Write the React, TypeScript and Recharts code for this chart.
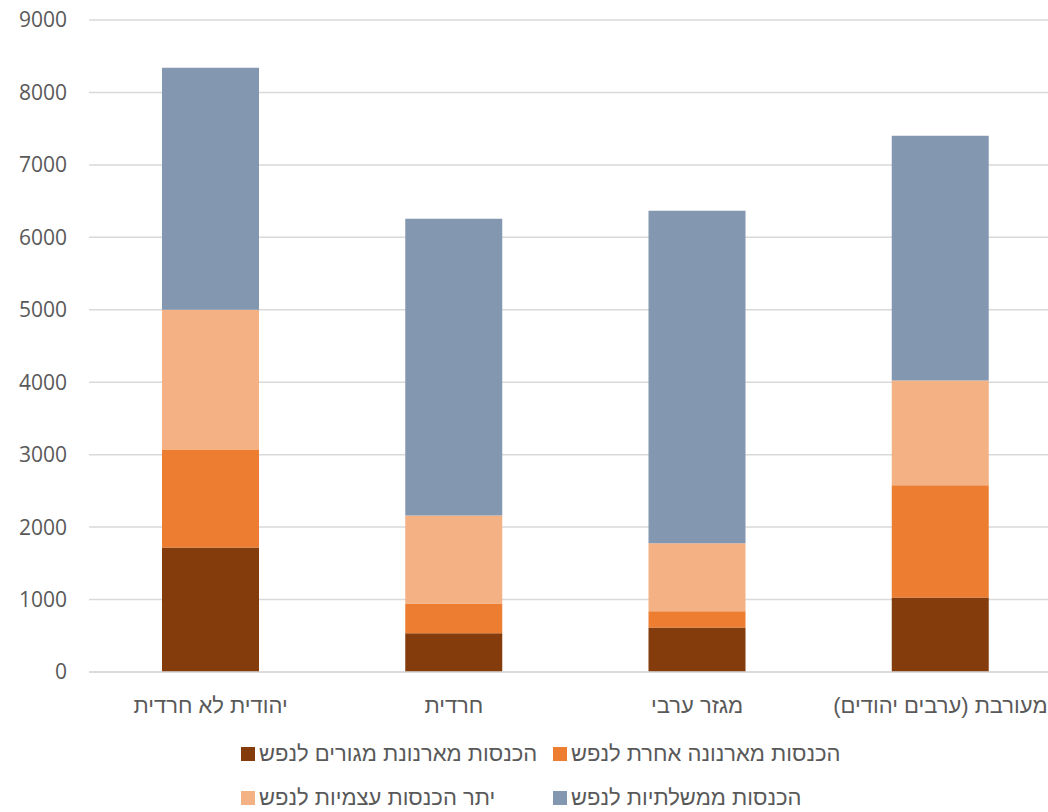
import React from 'react';
import { BarChart, Bar, XAxis, YAxis, CartesianGrid, Legend } from 'recharts';

const categories = ['יהודית לא חרדית', 'חרדית', 'מגזר ערבי', 'מעורבת (ערבים יהודים)'];
const residentialTax = [1720, 535, 615, 1030];
const otherTax = [1345, 410, 222, 1547];
const otherOwnIncome = [1935, 1215, 940, 1447];
const governmentIncome = [3340, 4095, 4590, 3378];
const yTicks = [0, 1000, 2000, 3000, 4000, 5000, 6000, 7000, 8000, 9000];

const seriesNames = [
  'הכנסות מארנונת מגורים לנפש',
  'הכנסות מארנונה אחרת לנפש',
  'יתר הכנסות עצמיות לנפש',
  'הכנסות ממשלתיות לנפש',
];
const colors = ['#843C0C', '#ED7D31', '#F4B183', '#8497B0'];

const data = categories.map((name, i) => ({
  name,
  s0: residentialTax[i],
  s1: otherTax[i],
  s2: otherOwnIncome[i],
  s3: governmentIncome[i],
}));

const NUM_FONT = '"Open Sans", "Liberation Sans", sans-serif';
const HEB_FONT = '"Liberation Sans", "DejaVu Sans", sans-serif';
const TEXT = '#595959';

const legendPos = [
  { left: 241, top: 6 },
  { left: 553, top: 6 },
  { left: 241, top: 50 },
  { left: 553, top: 50 },
];

const LegendContent = () => (
  <div style={{ position: 'relative', width: 1048, height: 77 }}>
    {seriesNames.map((n, i) => (
      <div
        key={n}
        style={{
          position: 'absolute',
          left: legendPos[i].left,
          top: legendPos[i].top,
          display: 'flex',
          alignItems: 'center',
          height: 26,
          fontFamily: HEB_FONT,
          fontSize: 22,
          color: TEXT,
          whiteSpace: 'nowrap',
        }}
      >
        <span style={{ display: 'inline-block', width: 14, height: 14, background: colors[i], marginRight: 4 }} />
        <span>{n}</span>
      </div>
    ))}
  </div>
);

export default function App() {
  return (
    <div style={{ position: 'absolute', left: 0, top: 0, width: 1048, height: 812, overflow: 'hidden', background: '#fff' }}>
      <BarChart
        width={1062}
        height={812}
        data={data}
        margin={{ top: 20, right: 0, bottom: 0, left: 0 }}
        barSize={97}
      >
        <CartesianGrid vertical={false} stroke="#d9d9d9" strokeWidth={1.5} />
        <XAxis
          dataKey="name"
          height={63}
          axisLine={{ stroke: '#d9d9d9', strokeWidth: 1.5 }}
          tickLine={false}
          tickSize={0}
          tickMargin={25}
          tick={{ fill: TEXT, fontSize: 22, fontFamily: HEB_FONT }}
          interval={0}
        />
        <YAxis
          width={89}
          domain={[0, 9000]}
          ticks={yTicks}
          axisLine={false}
          tickLine={false}
          tickSize={0}
          tickMargin={22}
          tick={{ fill: TEXT, fontSize: 21, fontFamily: NUM_FONT }}
          interval={0}
        />
        <Legend verticalAlign="bottom" content={<LegendContent />} wrapperStyle={{ left: 0, width: 1048 }} />
        <Bar dataKey="s0" stackId="a" fill={colors[0]} name={seriesNames[0]} isAnimationActive={false} />
        <Bar dataKey="s1" stackId="a" fill={colors[1]} name={seriesNames[1]} isAnimationActive={false} />
        <Bar dataKey="s2" stackId="a" fill={colors[2]} name={seriesNames[2]} isAnimationActive={false} />
        <Bar dataKey="s3" stackId="a" fill={colors[3]} name={seriesNames[3]} isAnimationActive={false} />
      </BarChart>
    </div>
  );
}
